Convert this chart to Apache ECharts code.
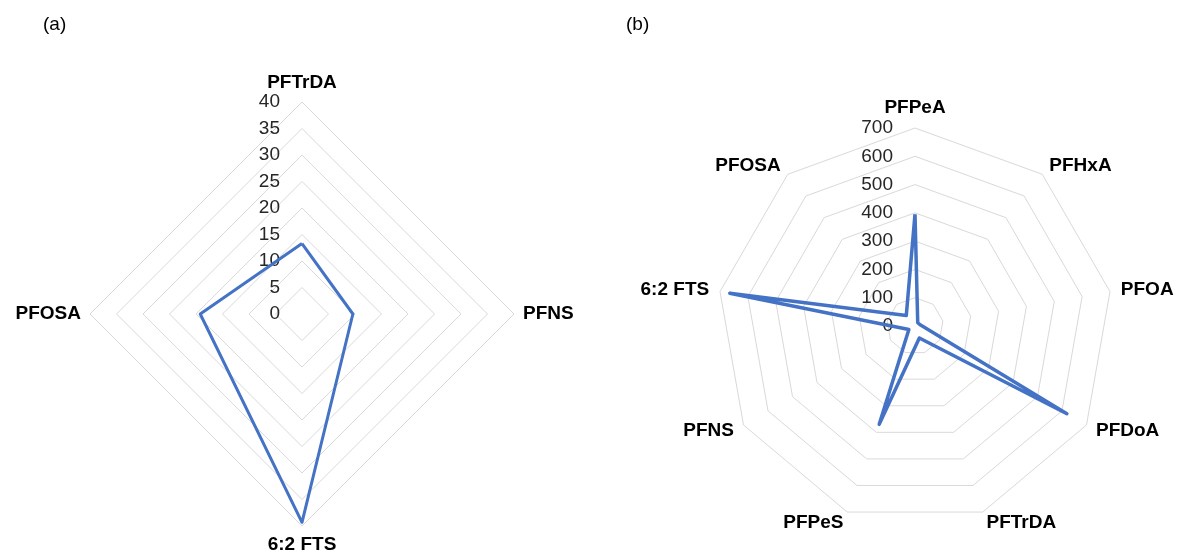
<!DOCTYPE html>
<html>
<head>
<meta charset="utf-8">
<script src="https://cdn.jsdelivr.net/npm/echarts@6/dist/echarts.min.js"></script>
<style>
html,body{margin:0;padding:0;background:#fff;}
#main{width:1177px;height:556px;}
</style>
</head>
<body>
<div id="main"></div>
<script>
// ---- Data (clockwise order, as in the reference) ----
const catsA = ['PFTrDA', 'PFNS', '6:2 FTS', 'PFOSA'];
const valsA = [13.3, 9.6, 39.3, 19.2];
const maxA = 40;
const splitA = 8;

const catsB = ['PFPeA', 'PFHxA', 'PFOA', 'PFDoA', 'PFTrDA', 'PFPeS', 'PFNS', '6:2 FTS', 'PFOSA'];
const valsB = [395, 15, 20, 620, 45, 370, 25, 665, 48];
const maxB = 700;
const splitB = 7;

const panelTitles = ['(a)', '(b)'];

// ECharts places indicators counter-clockwise; reorder to draw clockwise
function cw(arr) { return [arr[0]].concat(arr.slice(1).reverse()); }

const FONT = '"Liberation Sans", Arial, sans-serif';
const BLUE = '#4472C4';

function indicators(cats, max) {
  return cw(cats).map((name, i) => {
    const o = { name: name, min: 0, max: max };
    if (i === 0) {
      o.axisLabel = { show: true };
    }
    return o;
  });
}

function radarCfg(cats, max, split, center, radius, gap) {
  return {
    center: center,
    radius: radius,
    startAngle: 90,
    splitNumber: split,
    shape: 'polygon',
    nameGap: gap,
    axisName: { color: '#000', fontFamily: FONT, fontSize: 19, fontWeight: 'bold' },
    axisLine: { show: false },
    axisTick: { show: false },
    axisLabel: { show: false, color: '#262626', fontFamily: FONT, fontSize: 19, margin: 22, showMinLabel: true, showMaxLabel: true },
    splitLine: { lineStyle: { color: '#d9d9d9', width: 1 } },
    splitArea: { show: false },
    indicator: indicators(cats, max)
  };
}

const chart = echarts.init(document.getElementById('main'), null, { renderer: 'canvas' });
chart.setOption({
  backgroundColor: '#fff',
  animation: false,
  title: [
    { text: panelTitles[0], left: 38, top: 10, textStyle: { fontFamily: FONT, fontSize: 19, fontWeight: 'normal', color: '#000' } },
    { text: panelTitles[1], left: 621, top: 10, textStyle: { fontFamily: FONT, fontSize: 19, fontWeight: 'normal', color: '#000' } }
  ],
  radar: [
    radarCfg(catsA, maxA, splitA, [302, 314], 212, 9),
    radarCfg(catsB, maxB, splitB, [915, 326], 198, 11)
  ],
  series: [
    {
      type: 'radar', radarIndex: 0, symbol: 'none',
      lineStyle: { color: BLUE, width: 3 },
      data: [{ value: cw(valsA) }]
    },
    {
      type: 'radar', radarIndex: 1, symbol: 'none',
      lineStyle: { color: BLUE, width: 3.5 },
      data: [{ value: cw(valsB) }]
    }
  ]
});
</script>
</body>
</html>
